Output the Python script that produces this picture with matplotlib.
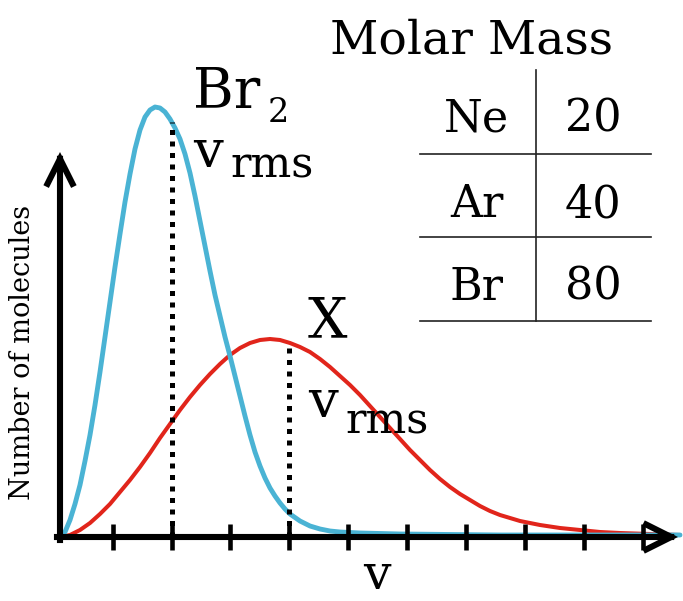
import matplotlib
matplotlib.use("Agg")
import matplotlib.pyplot as plt

# ---- data (x = speed, y = number of molecules) ----
br2_v = [0, 5, 10, 15, 20, 25, 30, 35, 40, 45, 50, 55, 60, 65, 70, 75, 80, 85, 90,
         95, 100, 105, 110, 115, 120, 125, 130, 135, 140, 145, 150, 155, 160, 165,
         170, 175, 180, 185, 190, 195, 200, 205, 210, 215, 220, 225, 230, 240, 250,
         260, 270, 280, 300, 340, 440, 620]
br2_n = [0, 5, 17, 33, 52, 76, 102, 132, 165, 200, 235, 270, 303, 335, 363, 388,
         407, 420, 427, 430, 429, 425, 418, 409, 398, 383, 364, 341, 316, 291, 266,
         242, 221, 200, 181, 161, 141, 121, 102, 85, 71, 59, 49, 41, 34, 28, 23, 16,
         11, 8, 6, 5, 4, 3, 2, 2]

x_v = [0, 10, 20, 30, 40, 50, 60, 70, 80, 90, 100, 110, 120, 130, 140, 150, 160,
       170, 180, 190, 200, 210, 220, 230, 240, 250, 260, 270, 280, 290, 300, 310,
       320, 330, 340, 350, 360, 370, 380, 390, 400, 410, 420, 430, 440, 450, 460,
       480, 500, 520, 540, 560, 590, 620]
x_n = [0, 2, 7, 14, 23, 33, 45, 57, 70, 84, 99, 113, 127, 140, 152, 163, 173, 182,
       189, 194, 197, 198, 197, 194, 190, 185, 178, 170, 161, 152, 142, 131, 120,
       109, 98, 87, 77, 67, 58, 50, 43, 37, 31, 26, 22, 19, 16, 12, 9, 7, 5, 4, 3, 2]

vrms_pos = [112, 229]          # Br2, X
vrms_height = [415, 194]

tick_pos = [53, 112, 170, 229, 288, 347, 406, 465, 524, 583]

table_elements = ["Ne", "Ar", "Br"]
table_masses = ["20", "40", "80"]

BLUE = "#4AB3D4"
RED = "#E1251B"
SERIF = ["DejaVu Serif"]

fig = plt.figure(figsize=(6.83, 6.01), dpi=100)
ax = fig.add_axes([0, 0, 1, 1])
ax.set_xlim(-60, 623)
ax.set_ylim(-64, 537)
ax.axis("off")

# curves
ax.plot(x_v, x_n, color=RED, lw=2.9, solid_joinstyle="round", solid_capstyle="round", zorder=2)
ax.plot(br2_v, br2_n, color=BLUE, lw=3.5, solid_joinstyle="round", solid_capstyle="round", zorder=3)

# axes with arrows
arrow_kw = dict(arrowstyle="->,head_length=0.9,head_width=0.45", lw=4.4, color="black",
                shrinkA=0, shrinkB=0, mutation_scale=20, joinstyle="miter", capstyle="projecting")
ax.annotate("", xy=(0, 385), xytext=(0, -3), arrowprops=arrow_kw, zorder=4)
ax.annotate("", xy=(618, 0), xytext=(-3, 0), arrowprops=arrow_kw, zorder=4)

# ticks
ax.vlines(tick_pos, -13, 13, colors="black", lw=3.3, zorder=5)

# v_rms dotted lines
for vp, h in zip(vrms_pos, vrms_height):
    ax.plot([vp, vp], [0, h], color="black", lw=3.6, linestyle=(0, (1, 1.3)),
            dash_capstyle="butt", zorder=6)

# labels on the curves
ax.text(133, 429, "Br", fontsize=40, family=SERIF, va="baseline", ha="left")
ax.text(208, 415, "2", fontsize=24, family=SERIF, va="baseline", ha="left")
ax.text(133, 370, "v", fontsize=38, family=SERIF, va="baseline", ha="left")
ax.text(170, 359, "rms", fontsize=31, family=SERIF, va="baseline", ha="left")

ax.text(248, 200, "X", fontsize=40, family=SERIF, va="baseline", ha="left")
ax.text(248, 120, "v", fontsize=38, family=SERIF, va="baseline", ha="left")
ax.text(285, 104, "rms", fontsize=31, family=SERIF, va="baseline", ha="left")

# axis labels
ax.text(317, -52, "v", fontsize=35, family=SERIF, va="baseline", ha="center")
ax.text(-37, 185, "Number of molecules", fontsize=19.5, family=SERIF, rotation=90,
        va="center", ha="center")

# molar mass table
ax.text(412, 484, "Molar Mass", fontsize=34, family=SERIF, va="baseline", ha="center")
ax.plot([476, 476], [216, 467], color="#222222", lw=1.2)
for yl in [383, 300, 216]:
    ax.plot([360, 591], [yl, yl], color="#222222", lw=1.2)
row_base = [405, 320, 237]
for el, m, yb in zip(table_elements, table_masses, row_base):
    ax.text(417, yb, el, fontsize=32, family=SERIF, va="baseline", ha="center")
    ax.text(533, yb, m, fontsize=32, family=SERIF, va="baseline", ha="center")

fig.savefig("out.png", dpi=100)
